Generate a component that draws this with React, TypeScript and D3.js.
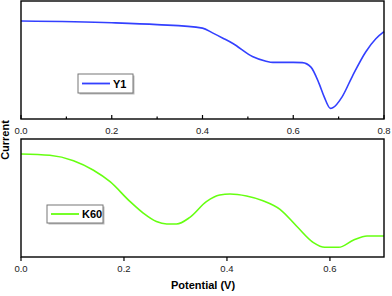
import * as d3 from 'd3';

// Y1 (top panel)
const y1Potential = [0, 0.2, 0.3, 0.4, 0.422, 0.445, 0.467, 0.51, 0.54, 0.555, 0.6, 0.62, 0.639, 0.657, 0.668, 0.682, 0.687, 0.708, 0.73, 0.76, 0.782, 0.8];
const y1Current = [0.83, 0.816, 0.8, 0.77, 0.73, 0.685, 0.64, 0.53, 0.49, 0.48, 0.48, 0.478, 0.44, 0.3, 0.19, 0.09, 0.095, 0.19, 0.36, 0.57, 0.68, 0.74];

// K60 (bottom panel)
const k60Potential = [0, 0.056, 0.102, 0.14, 0.173, 0.212, 0.238, 0.263, 0.283, 0.302, 0.328, 0.36, 0.386, 0.406, 0.438, 0.47, 0.503, 0.535, 0.568, 0.59, 0.617, 0.646, 0.672, 0.705];
const k60Current = [0.873, 0.862, 0.816, 0.737, 0.638, 0.469, 0.37, 0.3, 0.28, 0.28, 0.336, 0.469, 0.525, 0.534, 0.517, 0.477, 0.404, 0.263, 0.122, 0.082, 0.082, 0.144, 0.178, 0.178];

const topTicks = [0, 0.2, 0.4, 0.6, 0.8];
const topMinor = [0.1, 0.3, 0.5, 0.7];
const bottomTicks = [0, 0.2, 0.4, 0.6];

const font = '"Liberation Sans", Arial, sans-serif';

const left = 21;
const right = 384;

function Panel({ xs, ys, xMax, top, bottom, color, label, ticks, minor, inward, legend }: any) {
  const x = d3.scaleLinear().domain([0, xMax]).range([left, right]);
  const y = d3.scaleLinear().domain([0, 1]).range([bottom, top]);
  const pts = xs.map((v: number, i: number) => [v, ys[i]] as [number, number]);
  const line = d3.line<[number, number]>()
    .x(d => x(d[0]))
    .y(d => y(d[1]))
    .curve(d3.curveMonotoneX);
  const tl = inward ? -4 : 4;
  return (
    <g>
      <path d={line(pts) || ''} fill="none" stroke={color} strokeWidth={1.6} />
      <rect x={left} y={top} width={right - left} height={bottom - top} fill="none" stroke="#000" strokeWidth={1.4} />
      {ticks.map((t: number) => (
        <g key={t}>
          <line x1={x(t)} x2={x(t)} y1={bottom} y2={bottom + tl} stroke="#000" strokeWidth={1.2} />
          <text x={x(t)} y={bottom + 15} fontSize={9.5} fontFamily={font} textAnchor="middle" fill="#222">{t.toFixed(1)}</text>
        </g>
      ))}
      {minor.map((t: number) => (
        <line key={t} x1={x(t)} x2={x(t)} y1={bottom} y2={bottom - 2.5} stroke="#000" strokeWidth={1.2} />
      ))}
      <rect x={legend.x + 1.5} y={legend.y + 1.5} width={legend.w} height={legend.h} fill="#bbb" />
      <rect x={legend.x} y={legend.y} width={legend.w} height={legend.h} fill="#fff" stroke="#777" strokeWidth={1} />
      <line x1={legend.x + 4} x2={legend.x + 32} y1={legend.y + legend.h / 2} y2={legend.y + legend.h / 2} stroke={color} strokeWidth={1.8} />
      <text x={legend.x + 35} y={legend.y + legend.h / 2 + 4} fontSize={11} fontWeight="bold" fontFamily={font}>{label}</text>
    </g>
  );
}

export default function App() {
  return (
    <svg width={392} height={296} style={{ position: 'absolute', left: 0, top: 0, background: '#fff' }}>
      <Panel xs={y1Potential} ys={y1Current} xMax={0.8} top={1} bottom={119} color="#3340ff" label="Y1"
        ticks={topTicks} minor={topMinor} inward legend={{ x: 78, y: 74, w: 55, h: 19 }} />
      <Panel xs={k60Potential} ys={k60Current} xMax={0.705} top={139} bottom={257} color="#66ff11" label="K60"
        ticks={bottomTicks} minor={[]} inward={false} legend={{ x: 47, y: 205, w: 56, h: 18 }} />
      <text transform="translate(9,140) rotate(-90)" textAnchor="middle" fontSize={11} fontWeight="bold" fontFamily={font}>Current</text>
      <text x={203} y={289} textAnchor="middle" fontSize={11} fontWeight="bold" fontFamily={font}>Potential (V)</text>
    </svg>
  );
}
